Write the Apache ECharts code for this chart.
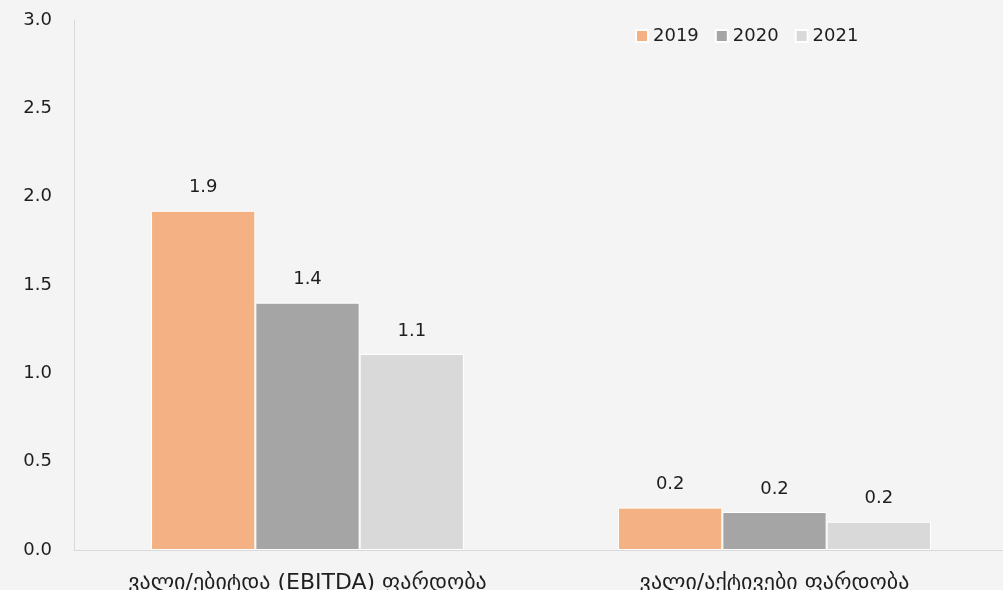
<!DOCTYPE html>
<html>
<head>
<meta charset="utf-8">
<script src="https://cdn.jsdelivr.net/npm/echarts@6/dist/echarts.min.js"></script>
<style>
  html, body { margin: 0; padding: 0; background: #f4f4f4; overflow: hidden; }
  #chart { width: 1008px; height: 590px; }
</style>
</head>
<body>
<div id="chart"></div>
<script>
// Debt ratios by year
const categories = ['ვალი/ებიტდა (EBITDA) ფარდობა', 'ვალი/აქტივები ფარდობა'];
const years = ['2019', '2020', '2021'];
const values2019 = [1.92, 0.24];
const values2020 = [1.40, 0.215];
const values2021 = [1.11, 0.16];
const colors = ['#F4B183', '#A5A5A5', '#D9D9D9'];

const FONT = '"DejaVu Sans", sans-serif';
const TEXT = '#1e1e1e';

const seriesData = [values2019, values2020, values2021];

const chart = echarts.init(document.getElementById('chart'), null, { renderer: 'canvas' });
chart.setOption({
  backgroundColor: '#f4f4f4',
  animation: false,
  textStyle: { fontFamily: FONT },
  legend: {
    top: 22,
    left: 630,
    itemWidth: 12,
    itemHeight: 12,
    itemGap: 16,
    icon: 'rect',
    textStyle: { fontSize: 18, color: TEXT, fontFamily: FONT },
    data: years
  },
  grid: { left: 74, top: 20, right: 0, height: 530, containLabel: false, outerBoundsMode: 'none' },
  xAxis: {
    type: 'category',
    data: categories,
    axisLine: { show: true, lineStyle: { color: '#d9d9d9', width: 1 } },
    axisTick: { show: false },
    axisLabel: { fontSize: 22, color: TEXT, margin: 22, fontFamily: FONT }
  },
  yAxis: {
    type: 'value',
    min: 0,
    max: 3,
    interval: 0.5,
    axisLine: { show: true, lineStyle: { color: '#d9d9d9', width: 1 } },
    axisTick: { show: false },
    splitLine: { show: false },
    axisLabel: {
      fontSize: 18, color: TEXT, margin: 22, fontFamily: FONT,
      formatter: v => v.toFixed(1)
    }
  },
  series: years.map((y, i) => ({
    name: y,
    type: 'bar',
    data: seriesData[i],
    barGap: '0%',
    barCategoryGap: '33%',
    itemStyle: { color: colors[i], borderColor: '#ffffff', borderWidth: 1 },
    label: {
      show: true,
      position: 'top',
      distance: 14,
      fontSize: 18,
      color: TEXT,
      fontFamily: FONT,
      formatter: p => p.value.toFixed(1)
    }
  }))
});
</script>
</body>
</html>
